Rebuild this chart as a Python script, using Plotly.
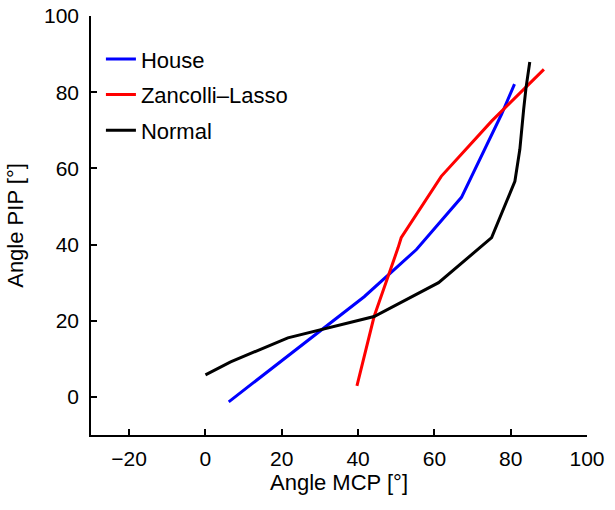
import plotly.graph_objects as go

house_x = [6.1, 25.0, 41.6, 55.3, 67.1, 77.6, 80.3, 81.0]
house_y = [-1.3, 13.4, 26.3, 38.7, 52.4, 74.2, 80.8, 82.1]

zl_x = [39.7, 44.2, 50.5, 51.3, 61.8, 75.0, 88.7]
zl_y = [2.9, 21.1, 39.2, 41.8, 57.9, 72.4, 86.0]

normal_x = [0.0, 6.6, 21.6, 44.2, 61.1, 75.0, 81.1, 82.4, 83.4, 84.0, 85.0]
normal_y = [5.8, 9.2, 15.5, 21.1, 30.0, 41.8, 56.6, 65.0, 75.5, 81.0, 87.9]

x_ticks = [-20, 0, 20, 40, 60, 80, 100]
y_ticks = [0, 20, 40, 60, 80, 100]

FONT = "Liberation Sans, Arial, Helvetica, sans-serif"

fig = go.Figure()
fig.add_trace(go.Scatter(x=house_x, y=house_y, mode="lines", name="House",
                         legendgroup="a", line=dict(color="#0000ff", width=3)))
fig.add_trace(go.Scatter(x=zl_x, y=zl_y, mode="lines", name="Zancolli\u2013Lasso",
                         legendgroup="b", line=dict(color="#ff0000", width=3)))
fig.add_trace(go.Scatter(x=normal_x, y=normal_y, mode="lines", name="Normal",
                         legendgroup="c", line=dict(color="#000000", width=3)))

axis_common = dict(showgrid=False, zeroline=False, showline=True, linecolor="black",
                   linewidth=1.5, ticks="inside", ticklen=6, tickwidth=1.5,
                   tickcolor="black", mirror=False, automargin=False,
                   tickfont=dict(family=FONT, size=21, color="black"))

fig.update_layout(
    width=615, height=510,
    margin=dict(l=91, r=28, t=16, b=75),
    plot_bgcolor="white", paper_bgcolor="white",
    font=dict(family=FONT, size=22, color="black"),
    xaxis=dict(range=[-30, 100], tickvals=x_ticks,
               title=dict(text="Angle MCP [°]", font=dict(family=FONT, size=22), standoff=0),
               ticklabelstandoff=4, **axis_common),
    yaxis=dict(range=[-10, 100], tickvals=y_ticks,
               title=dict(text="Angle PIP [°]", font=dict(family=FONT, size=22), standoff=14),
               ticklabelstandoff=6, **axis_common),
    legend=dict(x=0.02, y=0.947, xanchor="left", yanchor="top",
                bgcolor="rgba(0,0,0,0)", font=dict(family=FONT, size=22),
                itemwidth=30, tracegroupgap=4),
    showlegend=True,
)

fig.write_html("out.html", config={"displayModeBar": False},
               post_script="document.body.style.margin='0';")
